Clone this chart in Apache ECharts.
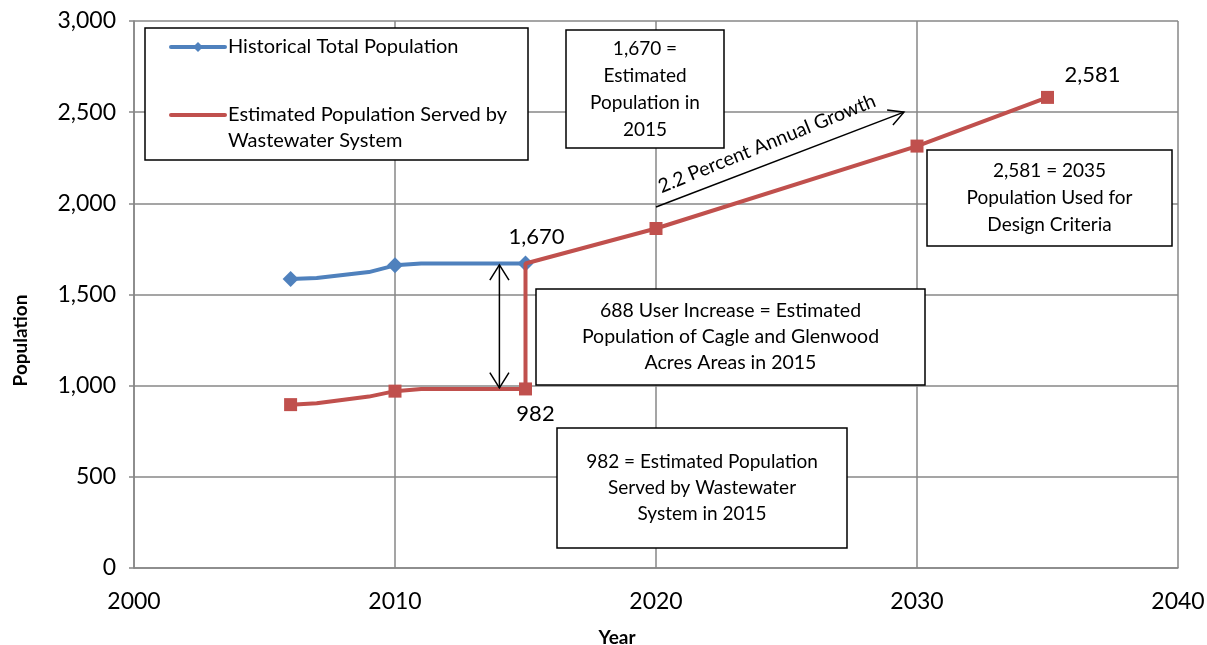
<!DOCTYPE html>
<html>
<head>
<meta charset="utf-8">
<title>Population Projection</title>
<script src="https://cdn.jsdelivr.net/npm/echarts@6.0.0/dist/echarts.min.js"></script>
<style>
  html, body { margin: 0; padding: 0; background: #ffffff; }
  #chart { width: 1207px; height: 645px; }
</style>
</head>
<body>
<div id="chart"></div>
<script>
// Historical total population (markers only on the surveyed years)
const historicalYears  = [2006, 2007, 2009, 2010, 2011, 2015];
const historicalValues = [1585, 1590, 1623, 1660, 1670, 1670];
const historicalMarked = [2006, 2010, 2015];

// Estimated population served by the wastewater system
const servedYears  = [2006, 2007, 2009, 2010, 2011, 2015, 2015, 2020, 2030, 2035];
const servedValues = [896, 903, 940, 970, 982, 982, 1670, 1862, 2314, 2581];
const servedMarked = [0, 3, 5, 7, 8, 9]; // indexes that carry a square marker

// Axis ticks
const yearTicks = [2000, 2010, 2020, 2030, 2040];
const populationTicks = [0, 500, 1000, 1500, 2000, 2500, 3000];

// Annotation texts
const legendNames = ['Historical Total Population', 'Estimated Population Served by\nWastewater System'];
const noteEstimated2015 = '1,670 =\nEstimated\nPopulation in\n2015';
const noteDesign = '2,581 = 2035\nPopulation Used for\nDesign Criteria';
const noteIncrease = '688 User Increase = Estimated\nPopulation of Cagle and Glenwood\nAcres Areas in 2015';
const noteServed = '982 = Estimated Population\nServed by Wastewater\nSystem in 2015';
const growthText = '2.2 Percent Annual Growth';

const BLUE = '#4F81BD';
const RED = '#C0504D';
const GRID = '#878787';
const FONT = 'Lato, "Open Sans", sans-serif';

const fmt = v => Number(v).toLocaleString('en-US');

const chart = echarts.init(document.getElementById('chart'), null, { renderer: 'canvas' });

const historicalData = historicalYears.map((y, i) => {
  const item = { value: [y, historicalValues[i]] };
  if (!historicalMarked.includes(y)) item.symbol = 'none';
  if (y === 2015) {
    item.label = {
      show: true, formatter: fmt(historicalValues[i]), position: 'top',
      offset: [11, -3], fontSize: 22, fontFamily: FONT, color: '#000'
    };
  }
  return item;
});

const servedData = servedYears.map((y, i) => {
  const item = { value: [y, servedValues[i]] };
  if (!servedMarked.includes(i)) item.symbol = 'none';
  if (i === 5) {
    item.label = {
      show: true, formatter: fmt(servedValues[i]), position: 'bottom',
      offset: [10, 2], fontSize: 22, fontFamily: FONT, color: '#000'
    };
  }
  if (i === servedYears.length - 1) {
    item.label = {
      show: true, formatter: fmt(servedValues[i]), position: 'top',
      offset: [45, 0], fontSize: 22, fontFamily: FONT, color: '#000'
    };
  }
  return item;
});

chart.setOption({
  animation: false,
  backgroundColor: '#ffffff',
  grid: { left: 134, right: 29, top: 21, bottom: 77, containLabel: false, outerBoundsMode: 'none' },
  xAxis: {
    type: 'value',
    min: yearTicks[0], max: yearTicks[yearTicks.length - 1], interval: 10,
    name: 'Year', nameLocation: 'middle', nameGap: 60,
    nameTextStyle: { fontFamily: FONT, fontWeight: 'bold', fontSize: 19, color: '#000', padding: [0, 78, 0, 0] },
    axisLine: { lineStyle: { color: GRID, width: 1.5 } },
    axisTick: { show: false },
    axisLabel: { formatter: v => String(v), fontFamily: FONT, fontSize: 23, color: '#000', margin: 22 },
    splitLine: { show: true, lineStyle: { color: GRID, width: 1.5 } }
  },
  yAxis: {
    type: 'value',
    min: populationTicks[0], max: populationTicks[populationTicks.length - 1], interval: 500,
    name: 'Population', nameLocation: 'middle', nameGap: 104, nameRotate: 90,
    nameTextStyle: { fontFamily: FONT, fontWeight: 'bold', fontSize: 19, color: '#000', padding: [0, 92, 0, 0] },
    axisLine: { show: true, lineStyle: { color: GRID, width: 1.5 } },
    axisTick: { show: true, length: 5, lineStyle: { color: GRID, width: 1.5 } },
    axisLabel: { formatter: v => fmt(v), fontFamily: FONT, fontSize: 23, color: '#000', margin: 18 },
    splitLine: { show: true, lineStyle: { color: GRID, width: 1.5 } }
  },
  series: [
    {
      name: legendNames[0], type: 'line', data: historicalData,
      symbol: 'diamond', symbolSize: 16, z: 3,
      lineStyle: { color: BLUE, width: 4 }, itemStyle: { color: BLUE }
    },
    {
      name: legendNames[1], type: 'line', data: servedData,
      symbol: 'rect', symbolSize: 13, z: 4,
      lineStyle: { color: RED, width: 4 }, itemStyle: { color: RED }
    }
  ]
});

// Annotation layer: boxes, arrows and the legend
function box(x, y, w, h, text, fontSize, lineHeight) {
  return {
    type: 'group', z: 10,
    children: [
      { type: 'rect', shape: { x: x, y: y, width: w, height: h },
        style: { fill: '#fff', stroke: '#000', lineWidth: 1.5 } },
      { type: 'text', style: {
          text: text, x: x + w / 2, y: y + h / 2, align: 'center', verticalAlign: 'middle',
          font: fontSize + 'px ' + FONT, lineHeight: lineHeight, fill: '#000' } }
    ]
  };
}

function arrowHead(tip, from, len, spread) {
  const ang = Math.atan2(from[1] - tip[1], from[0] - tip[0]);
  const a1 = ang + spread, a2 = ang - spread;
  return {
    type: 'polyline', z: 11,
    shape: { points: [
      [tip[0] + len * Math.cos(a1), tip[1] + len * Math.sin(a1)],
      tip,
      [tip[0] + len * Math.cos(a2), tip[1] + len * Math.sin(a2)]
    ] },
    style: { stroke: '#000', lineWidth: 1.5, fill: null }
  };
}

const toPx = (x, y) => chart.convertToPixel({ gridIndex: 0 }, [x, y]);

// Double-headed arrow spanning the 688-user gap
const gapTop = toPx(2014, 1662);
const gapBot = toPx(2014, 988);
// Growth arrow
const gStart = toPx(2020, 1980);
const gEnd = toPx(2029.5, 2500);
const gAngle = Math.atan2(gStart[1] - gEnd[1], gEnd[0] - gStart[0]);
const gMid = [(gStart[0] + gEnd[0]) / 2, (gStart[1] + gEnd[1]) / 2];
const gOff = 17;
const gTextPos = [gMid[0] - gOff * Math.sin(gAngle) - 7, gMid[1] - gOff * Math.cos(gAngle)];

const graphics = [
  // legend
  { type: 'rect', z: 10, shape: { x: 145, y: 28, width: 383, height: 132 },
    style: { fill: '#fff', stroke: '#000', lineWidth: 1.5 } },
  { type: 'line', z: 11, shape: { x1: 171, y1: 47, x2: 225, y2: 47 },
    style: { stroke: BLUE, lineWidth: 4, lineCap: 'round' } },
  { type: 'polygon', z: 12, shape: { points: [[198, 42], [203, 47], [198, 52], [193, 47]] },
    style: { fill: BLUE } },
  { type: 'text', z: 11, style: { text: legendNames[0], x: 228, y: 47, verticalAlign: 'middle',
      font: '20px ' + FONT, fill: '#000' } },
  { type: 'line', z: 11, shape: { x1: 171, y1: 115, x2: 225, y2: 115 },
    style: { stroke: RED, lineWidth: 4, lineCap: 'round' } },
  { type: 'text', z: 11, style: { text: legendNames[1], x: 228, y: 102, verticalAlign: 'top',
      font: '20px ' + FONT, lineHeight: 26, fill: '#000' } },

  box(566, 30, 158, 118, noteEstimated2015, 19, 27),
  box(927, 150, 245, 96, noteDesign, 19, 27),
  box(536, 289, 389, 96, noteIncrease, 19.5, 26),
  box(557, 428, 290, 120, noteServed, 19, 26),

  // gap arrow
  { type: 'line', z: 11, shape: { x1: gapTop[0], y1: gapTop[1], x2: gapBot[0], y2: gapBot[1] },
    style: { stroke: '#000', lineWidth: 1.5 } },
  arrowHead(gapTop, gapBot, 18, 0.56),
  arrowHead(gapBot, gapTop, 18, 0.56),

  // growth arrow
  { type: 'line', z: 11, shape: { x1: gStart[0], y1: gStart[1], x2: gEnd[0], y2: gEnd[1] },
    style: { stroke: '#000', lineWidth: 1.5 } },
  arrowHead(gEnd, gStart, 17, 0.5),
  { type: 'text', z: 11, x: gTextPos[0], y: gTextPos[1], rotation: gAngle + 0.02,
    style: { text: growthText, x: 0, y: 0, align: 'center', verticalAlign: 'middle',
      font: '19.5px ' + FONT, fill: '#000' } }
];

chart.setOption({ graphic: graphics });
</script>
</body>
</html>
